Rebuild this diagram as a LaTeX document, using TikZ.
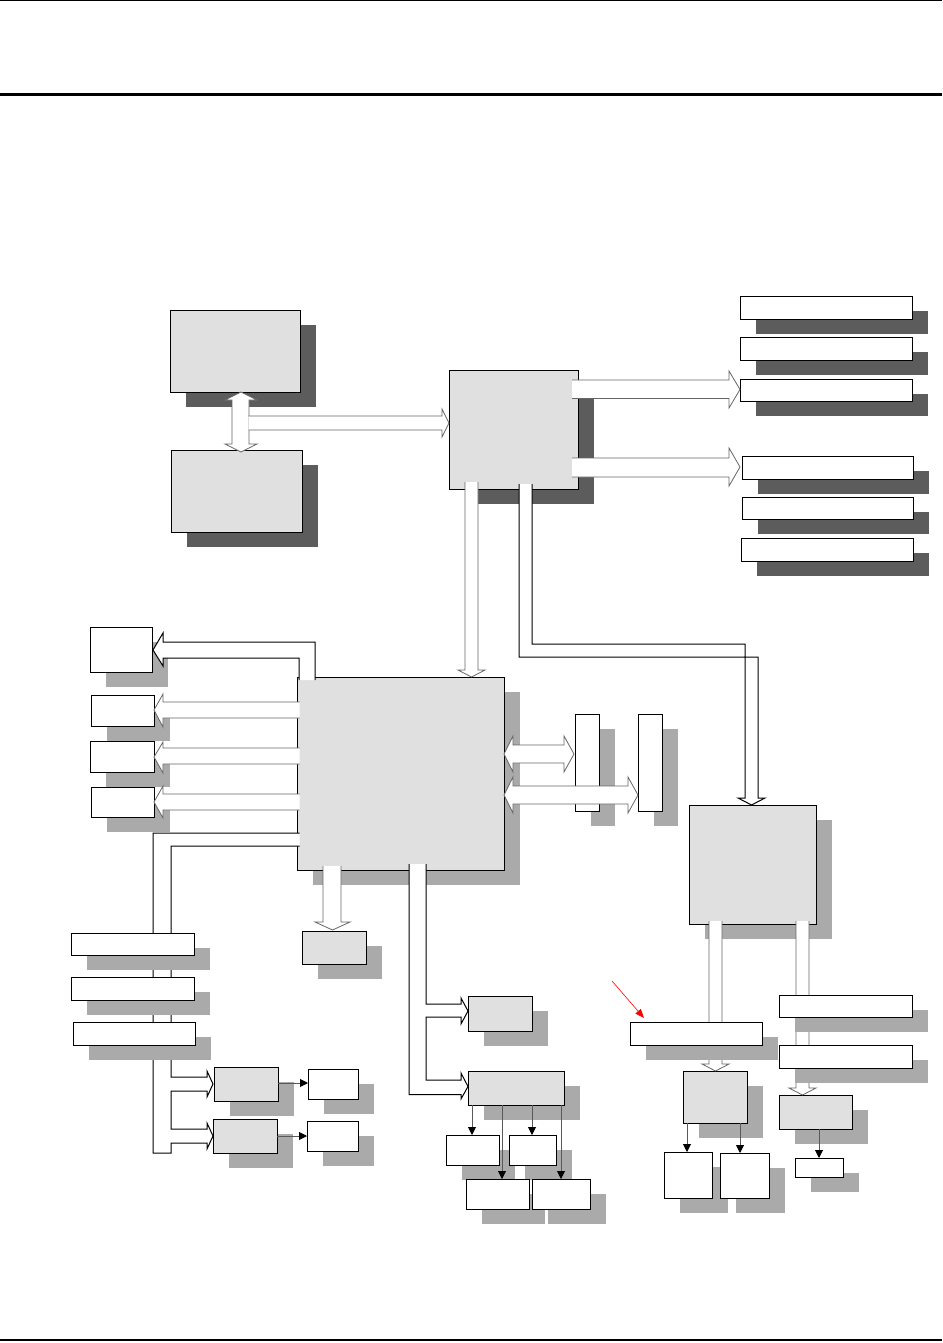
\documentclass[tikz,border=0pt]{standalone}
\usetikzlibrary{fit,shadows,arrows.meta}
\definecolor{boxgray}{HTML}{E0E0E0}
\definecolor{shdark}{HTML}{5C5C5C}
\definecolor{shlight}{HTML}{AAAAAA}
\definecolor{arrgray}{HTML}{666666}
\begin{document}
\begin{tikzpicture}[x=1pt,y=-1pt,
 box/.style={draw=black, line width=1pt, inner sep=0pt, outer sep=0pt},
 gbox/.style={box, fill=boxgray},
 wbox/.style={box, fill=white},
 dsh/.style={drop shadow={shadow xshift=16pt, shadow yshift=-15pt, fill=shdark, opacity=1, draw=none}},
 lsh/.style={drop shadow={shadow xshift=16pt, shadow yshift=-15pt, fill=shlight, opacity=1, draw=none}},
 barrow/.style={fill=white, draw=arrgray, line width=0.8pt, line join=miter},
 bus/.style={barrow, draw=black, line width=1pt},
 tarrow/.style={draw=black!65, line width=0.9pt, -{Triangle[length=8pt,width=8pt,color=black]}},
 redarrow/.style={draw=red, line width=0.6pt, -{Triangle[length=9pt,width=7pt]}},
]
\useasboundingbox (0,0) rectangle (942,1343);
% page rules
\draw[line width=1pt] (0,1) -- (942,1);
\draw[line width=3.3pt] (0,94.5) -- (942,94.5);
\draw[line width=1.2pt] (0,1340) -- (942,1340);

% top group
\node[gbox,dsh,fit={(170,310) (300,392)}] (A) {};
\node[gbox,dsh,fit={(171,450) (302,532)}] (B) {};
\node[gbox,dsh,fit={(449,370) (578,489)}] (C) {};
\node[wbox,dsh,fit={(740,296) (912,319)}] (R1) {};
\node[wbox,dsh,fit={(740,337) (912,360)}] (R2) {};
\node[wbox,dsh,fit={(740,379) (912,401)}] (R3) {};
\node[wbox,dsh,fit={(742,456) (913,479)}] (R4) {};
\node[wbox,dsh,fit={(742,497) (913,519)}] (R5) {};
\node[wbox,dsh,fit={(741,538) (913,561)}] (R6) {};

% left boxes
\node[wbox,lsh,fit={(90,627) (152,672)}] (L1) {};
\node[wbox,lsh,fit={(91,695) (154,726)}] (L2) {};
\node[wbox,lsh,fit={(90,741) (154,772)}] (L3) {};
\node[wbox,lsh,fit={(91,787) (154,817)}] (L4) {};

% main box and neighbours
\node[gbox,lsh,fit={(297,677) (504,870)}] (D) {};
\node[wbox,lsh,fit={(575,714) (599,811)}] (N1) {};
\node[wbox,lsh,fit={(638,714) (662,811)}] (N2) {};
\node[gbox,lsh,fit={(689,805) (816,924)}] (E) {};
\node[gbox,lsh,fit={(302,931) (366,964)}] (P) {};
\node[gbox,lsh,fit={(468,996) (532,1031)}] (Q1) {};
\node[gbox,lsh,fit={(468,1071) (564,1105)}] (Q2) {};
\node[wbox,lsh,fit={(446,1135) (499,1165)}] (T1) {};
\node[wbox,lsh,fit={(509,1135) (556,1165)}] (T2) {};
\node[wbox,lsh,fit={(466,1179) (529,1209)}] (T3) {};
\node[wbox,lsh,fit={(532,1179) (590,1209)}] (T4) {};
\node[gbox,lsh,fit={(214,1067) (278,1101)}] (M1) {};
\node[gbox,lsh,fit={(213,1119) (277,1153)}] (M2) {};
\node[wbox,lsh,fit={(308,1069) (358,1099)}] (S1) {};
\node[wbox,lsh,fit={(307,1121) (358,1151)}] (S2) {};
\node[gbox,lsh,fit={(683,1071) (747,1123)}] (F) {};
\node[gbox,lsh,fit={(779,1095) (852,1129)}] (G) {};
\node[wbox,lsh,fit={(664,1152) (712,1198)}] (H1) {};
\node[wbox,lsh,fit={(720,1153) (769,1198)}] (H2) {};
\node[wbox,lsh,fit={(795,1158) (843,1177)}] (K) {};

% block arrows
\path[barrow] (241,392) -- (257,400) -- (249,400) -- (249,444) -- (257,444) -- (241,452)
  -- (225,444) -- (232,444) -- (232,400) -- (225,400) -- cycle;
\path[barrow] (248.5,416) -- (442,416) -- (442,409) -- (449,423) -- (442,437) -- (442,430) -- (248.5,430);
\path[barrow] (572,380) -- (729,380) -- (729,371) -- (740,389.5) -- (729,408) -- (729,398.5) -- (572,398.5);
\path[barrow] (572,458) -- (729,458) -- (729,448) -- (740,467) -- (729,486) -- (729,477) -- (572,477);
\path[barrow] (465,482) -- (465,670) -- (458,670) -- (471.5,677) -- (485,670) -- (478,670) -- (478,482);
\path[bus] (519,484) -- (519,657) -- (758,657) -- (758,798) -- (765,798) -- (751.5,805)
  -- (738,798) -- (745,798) -- (745,644) -- (532,644) -- (532,484);
\path[bus] (315,680) -- (315,642) -- (163,642) -- (163,633) -- (153,650) -- (163,666)
  -- (163,658) -- (299,658) -- (299,680);
\path[barrow] (299.5,702) -- (163,702) -- (163,694) -- (154,710) -- (163,727) -- (163,718) -- (299.5,718);
\path[barrow] (299.5,748) -- (163,748) -- (163,742) -- (154,757) -- (163,773) -- (163,764) -- (299.5,764);
\path[barrow] (299.5,794) -- (163,794) -- (163,786) -- (154,802) -- (163,818) -- (163,810) -- (299.5,810);
\path[barrow] (504,754) -- (513,736) -- (513,745) -- (564,745) -- (564,736) -- (574,754)
  -- (564,772) -- (564,763) -- (513,763) -- (513,772) -- cycle;
\path[barrow] (504,795) -- (513,777) -- (513,786) -- (628,786) -- (628,777) -- (638,795)
  -- (628,813) -- (628,804) -- (513,804) -- (513,813) -- cycle;
\path[barrow] (323,866) -- (323,922) -- (315,922) -- (332.5,930) -- (350,922) -- (341,922) -- (341,866);
\path[bus] (409,864) -- (409,1094.5) -- (461,1094.5) -- (461,1099) -- (468,1086.5) -- (461,1073)
  -- (461,1080) -- (426,1080) -- (426,1017) -- (461,1017) -- (461,1024) -- (468,1011)
  -- (461,998) -- (461,1004) -- (426,1004) -- (426,864);
\path[bus] (299.5,833) -- (153,833) -- (153,1153) -- (171,1153) -- (171,1143) -- (207,1143)
  -- (207,1149) -- (213,1136) -- (207,1123) -- (207,1129) -- (171,1129) -- (171,1091)
  -- (207,1091) -- (207,1097) -- (213,1084) -- (207,1071) -- (207,1077) -- (171,1077)
  -- (171,846) -- (299.5,846);
\path[barrow] (709,921) -- (709,1064) -- (702,1064) -- (715.5,1071) -- (729,1064) -- (722,1064) -- (722,921);
\path[barrow] (796,921) -- (796,1088) -- (789,1088) -- (802.5,1095) -- (816,1088) -- (809,1088) -- (809,921);

% boxes lying over the buses
\node[wbox,lsh,fit={(71,933) (194,955)}] (W1) {};
\node[wbox,lsh,fit={(71,977) (194,1000)}] (W2) {};
\node[wbox,lsh,fit={(73,1022) (195,1045)}] (W3) {};
\node[wbox,lsh,fit={(630,1022) (762,1045)}] (V1) {};
\node[wbox,lsh,fit={(779,995) (912,1017)}] (V2) {};
\node[wbox,lsh,fit={(779,1045) (912,1068)}] (V3) {};

% thin arrows
\draw[tarrow] (M1.east |- 0,1083) -- (S1.west |- 0,1083);
\draw[tarrow] (M2.east |- 0,1136) -- (S2.west |- 0,1136);
\draw[tarrow] (472,0 |- Q2.south) -- (472,0 |- T1.north);
\draw[tarrow] (502,0 |- Q2.south) -- (502,0 |- T3.north);
\draw[tarrow] (532,0 |- Q2.south) -- (532,0 |- T2.north);
\draw[tarrow] (561,0 |- Q2.south) -- (561,0 |- T4.north);
\draw[tarrow] (687,0 |- F.south) -- (687,0 |- H1.north);
\draw[tarrow] (740,0 |- F.south) -- (740,0 |- H2.north);
\draw[tarrow] (819,0 |- G.south) -- (819,0 |- K.north);

% red pointer
\coordinate (redtail) at (612,981);
\draw[redarrow] (redtail) -- ([xshift=14pt,yshift=4pt]V1.north west);
\end{tikzpicture}
\end{document}
